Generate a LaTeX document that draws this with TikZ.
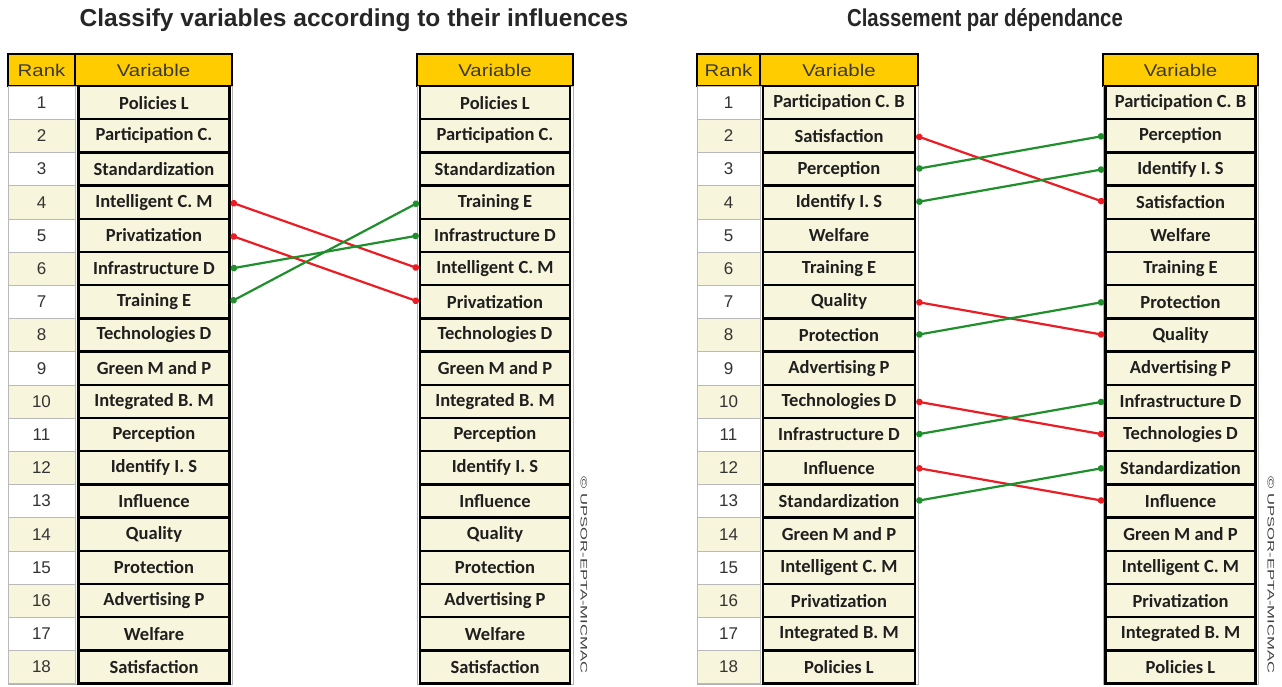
\documentclass[tikz,border=0pt]{standalone}
\usepackage{fontspec}
\setmainfont{Liberation Sans}
\newfontfamily\boxfont{Carlito}
\usetikzlibrary{arrows.meta}
\definecolor{gold}{HTML}{FFCC00}
\definecolor{cream}{HTML}{F7F5DB}
\definecolor{linkred}{HTML}{EC1C24}
\definecolor{linkgreen}{HTML}{1F8F2C}
\definecolor{hdrtext}{HTML}{3A3A3A}
\newcommand{\hstretch}[1]{\scalebox{1.2}[1]{#1}}
\tikzset{
  titletext/.style={font=\bfseries\fontsize{24.5}{27}\selectfont, text=black!85},
  hdrcell/.style={draw=black, line width=1.2pt, fill=gold, minimum height=32pt, inner sep=0pt,
    font=\fontsize{17}{19}\selectfont, text=hdrtext},
  rankcell/.style={draw=gray!55, line width=0.6pt, minimum height=33.2pt, inner sep=0pt,
    font=\fontsize{17}{19}\selectfont, text=black!80},
  varbox/.style={draw=black, line width=2.4pt, fill=cream, minimum height=33.2pt, inner sep=0pt,
    font=\boxfont\bfseries\fontsize{18.5}{20}\selectfont, text=black!88},
  colframe/.style={draw=gray!60, line width=0.6pt},
  conred/.style={draw=linkred, line width=2.2pt, {Circle[length=6.5pt]}-{Circle[length=6.5pt]}},
  congreen/.style={draw=linkgreen, line width=2.2pt, {Circle[length=6.5pt]}-{Circle[length=6.5pt]}},
  copytext/.style={rotate=-90, font=\fontsize{9.5}{11}\selectfont, text=black!75, inner sep=0pt}
}
\begin{document}
\begin{tikzpicture}[x=1pt,y=-1pt]
\useasboundingbox (0,0) rectangle (1282,686);
\fill[white] (0,0) rectangle (1282,686);

% titles
\node[titletext] (t1) at (354,20) {Classify variables according to their influences};
\node[titletext] (t2) at (985,20) {\scalebox{0.83}[1]{Classement par dépendance}};

% ---------- left group ----------
\node[hdrcell, minimum width=67pt] (LRh) at (41.5,70) {\hstretch{Rank}};
\node[hdrcell, minimum width=157pt] (LVh) at (153.5,70) {\hstretch{Variable}};
\node[hdrcell, minimum width=156pt] (LWh) at (495,70) {\hstretch{Variable}};
\draw[colframe] (8,86) rectangle (232,684.6);
\draw[colframe] (417,86) rectangle (573,684.6);

\foreach \i in {1,...,18}{
  \pgfmathsetmacro\yy{86+33.2*(\i-0.5)}
  \pgfmathsetmacro\odd{mod(\i,2)}
  \ifdim\odd pt=1pt
    \node[rankcell, fill=white, minimum width=67pt] (LR\i) at (41.5,\yy) {\i};
  \else
    \node[rankcell, fill=cream, minimum width=67pt] (LR\i) at (41.5,\yy) {\i};
  \fi
}
\foreach \t [count=\i] in {Policies L, Participation C., Standardization, Intelligent C. M, Privatization, Infrastructure D, Training E, Technologies D, Green M and P, Integrated B. M, Perception, Identify I. S, Influence, Quality, Protection, Advertising P, Welfare, Satisfaction}{
  \pgfmathsetmacro\yy{86+33.2*(\i-0.5)}
  \node[varbox, minimum width=151pt] (LV\i) at (154,\yy) {\t};
}
\foreach \t [count=\i] in {Policies L, Participation C., Standardization, Training E, Infrastructure D, Intelligent C. M, Privatization, Technologies D, Green M and P, Integrated B. M, Perception, Identify I. S, Influence, Quality, Protection, Advertising P, Welfare, Satisfaction}{
  \pgfmathsetmacro\yy{86+33.2*(\i-0.5)}
  \node[varbox, minimum width=150pt] (LW\i) at (495,\yy) {\t};
}
\draw[conred] (LV4.east) -- (LW6.west);
\draw[conred] (LV5.east) -- (LW7.west);
\draw[congreen] (LV6.east) -- (LW5.west);
\draw[congreen] (LV7.east) -- (LW4.west);

\node[copytext] (c1) at (584,575) {\scalebox{1.75}[1]{© UPSOR-EPTA-MICMAC}};

% ---------- right group ----------
\node[hdrcell, minimum width=63pt] (RRh) at (728.5,70) {\hstretch{Rank}};
\node[hdrcell, minimum width=158pt] (RVh) at (839,70) {\hstretch{Variable}};
\node[hdrcell, minimum width=155pt] (RWh) at (1180.5,70) {\hstretch{Variable}};
\draw[colframe] (697,86) rectangle (918,684.6);
\draw[colframe] (1103,86) rectangle (1258,684.6);

\foreach \i in {1,...,18}{
  \pgfmathsetmacro\yy{86+33.2*(\i-0.5)}
  \pgfmathsetmacro\odd{mod(\i,2)}
  \ifdim\odd pt=1pt
    \node[rankcell, fill=white, minimum width=63pt] (RR\i) at (728.5,\yy) {\i};
  \else
    \node[rankcell, fill=cream, minimum width=63pt] (RR\i) at (728.5,\yy) {\i};
  \fi
}
\foreach \t [count=\i] in {Participation C. B, Satisfaction, Perception, Identify I. S, Welfare, Training E, Quality, Protection, Advertising P, Technologies D, Infrastructure D, Influence, Standardization, Green M and P, Intelligent C. M, Privatization, Integrated B. M, Policies L}{
  \pgfmathsetmacro\yy{86+33.2*(\i-0.5)}
  \node[varbox, minimum width=152pt] (RV\i) at (839,\yy) {\t};
}
\foreach \t [count=\i] in {Participation C. B, Perception, Identify I. S, Satisfaction, Welfare, Training E, Protection, Quality, Advertising P, Infrastructure D, Technologies D, Standardization, Influence, Green M and P, Intelligent C. M, Privatization, Integrated B. M, Policies L}{
  \pgfmathsetmacro\yy{86+33.2*(\i-0.5)}
  \node[varbox, minimum width=150pt] (RW\i) at (1180.5,\yy) {\t};
}
\draw[conred] (RV2.east) -- (RW4.west);
\draw[congreen] (RV3.east) -- (RW2.west);
\draw[congreen] (RV4.east) -- (RW3.west);
\draw[conred] (RV7.east) -- (RW8.west);
\draw[congreen] (RV8.east) -- (RW7.west);
\draw[conred] (RV10.east) -- (RW11.west);
\draw[congreen] (RV11.east) -- (RW10.west);
\draw[conred] (RV12.east) -- (RW13.west);
\draw[congreen] (RV13.east) -- (RW12.west);

\node[copytext] (c2) at (1271,575) {\scalebox{1.75}[1]{© UPSOR-EPTA-MICMAC}};
\end{tikzpicture}
\end{document}
